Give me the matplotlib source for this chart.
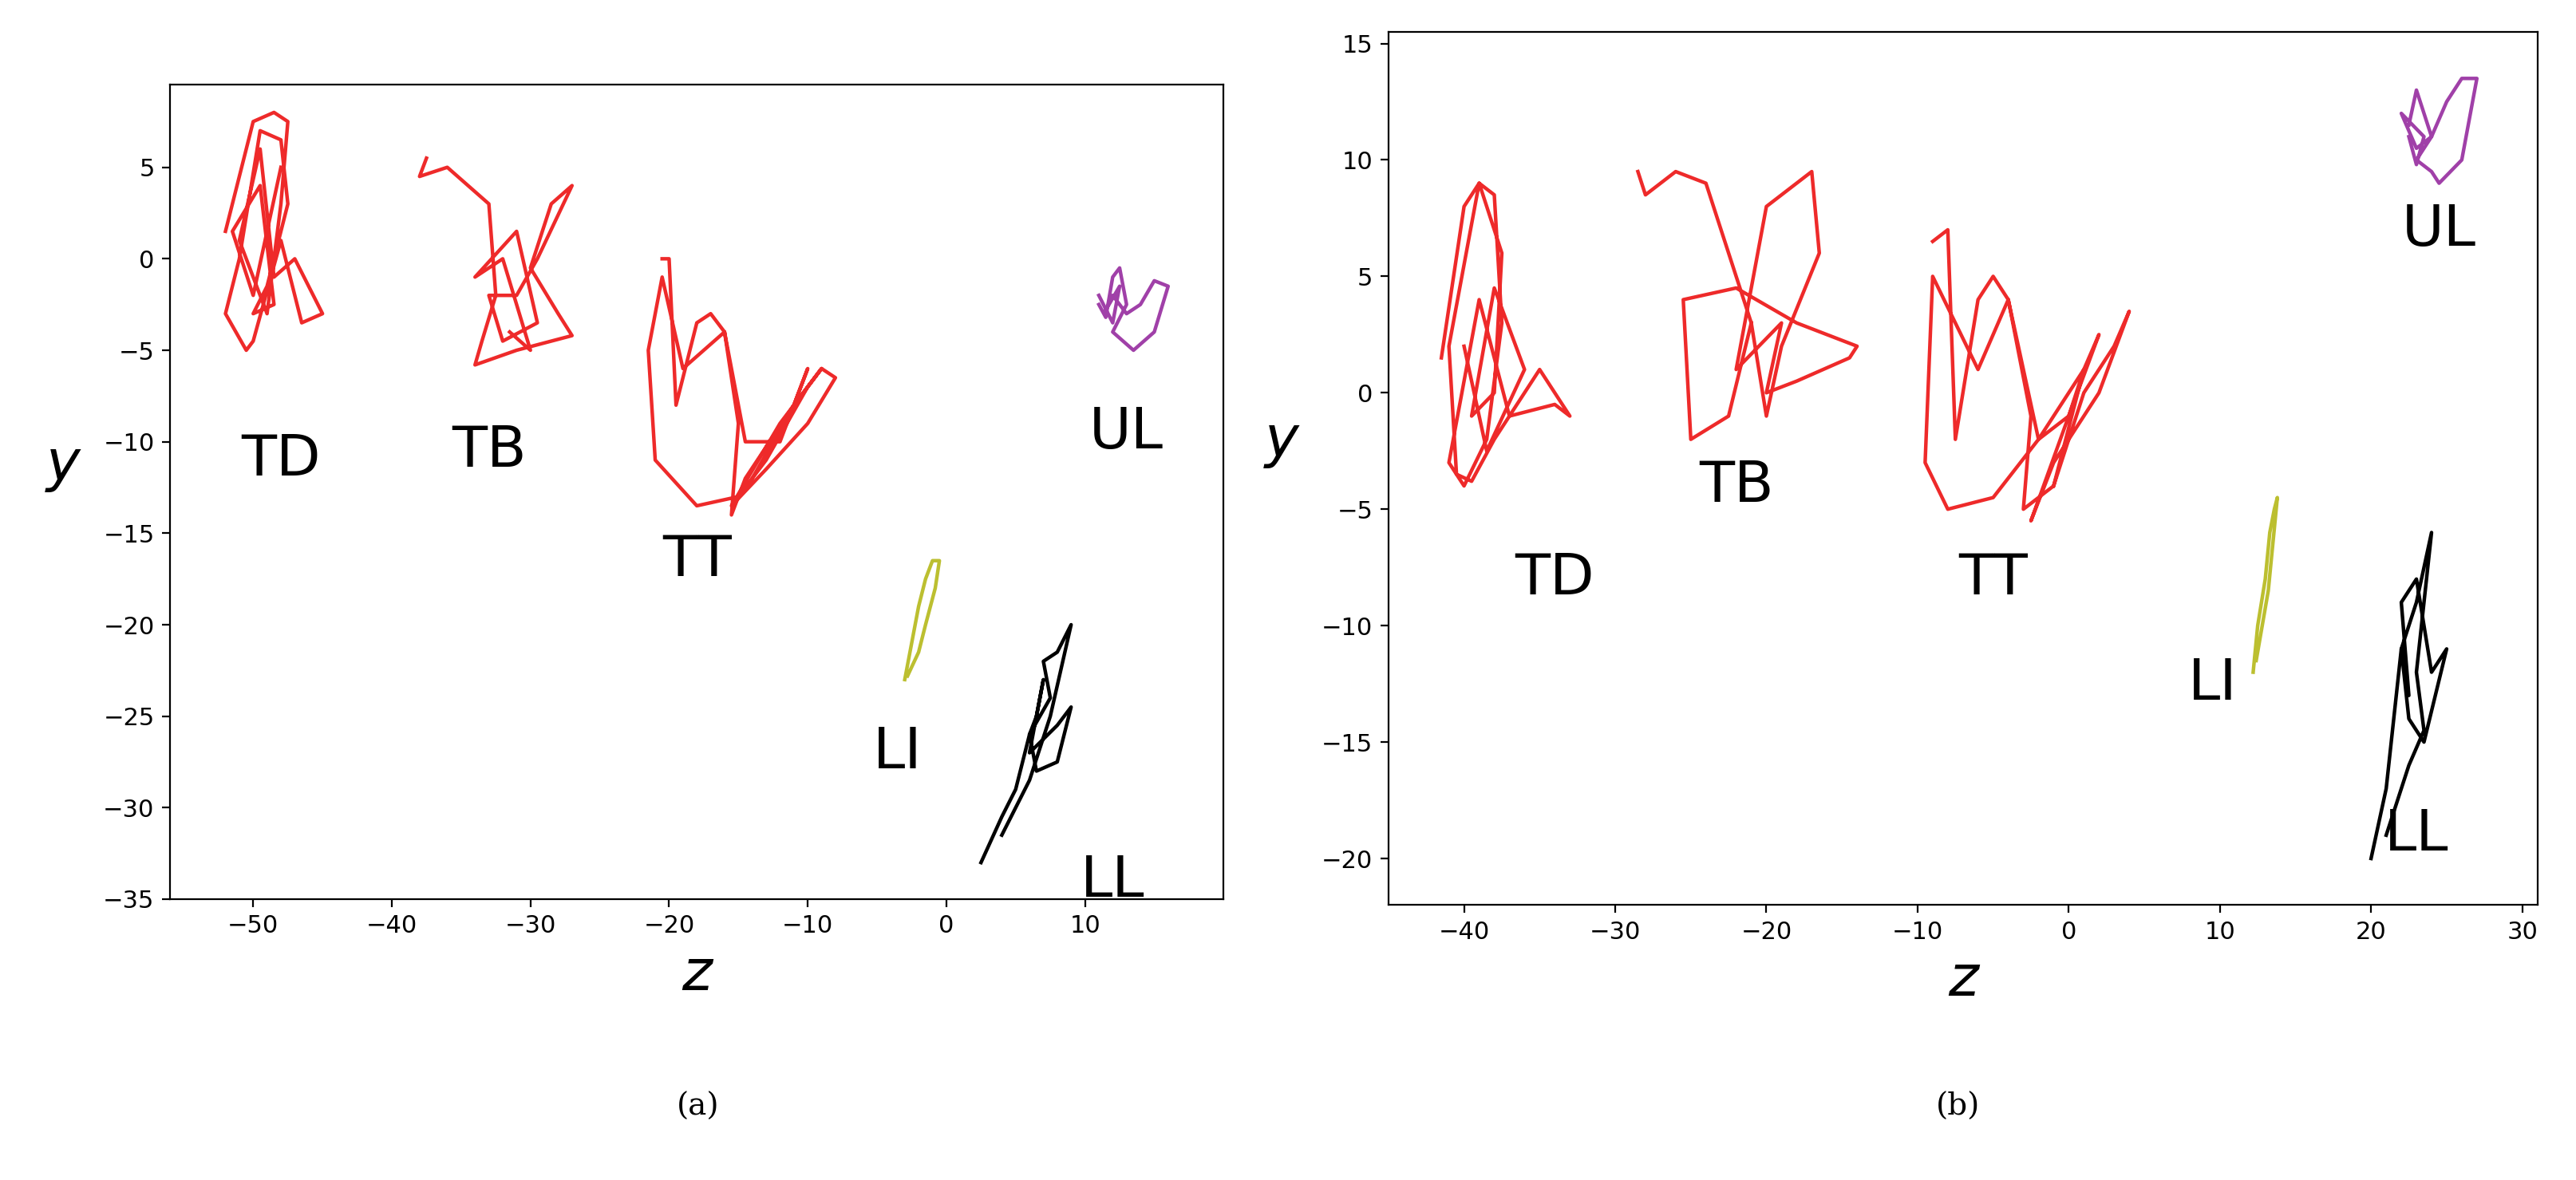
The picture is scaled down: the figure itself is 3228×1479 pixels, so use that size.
import matplotlib.pyplot as plt

# ---- panel (a) trajectories (z, y) ----
a_td_z = [-52, -50.5, -50, -48.5, -47.5, -48, -49, -51, -49.5, -48.5, -47, -45, -46.5, -48, -50, -50.5, -52, -51, -49.5, -48, -47.5, -49, -50, -48.5, -49.5, -51.5, -50, -48]
a_td_y = [1.5, 6, 7.5, 8, 7.5, 3, -3, 1, 6, -1, 0, -3, -3.5, 1, -4.5, -5, -3, 0, 7, 6.5, 3, -1.5, -3, -2.5, 4, 1.5, -2, 5]
a_tb_z = [-37.5, -38, -36, -33, -32.5, -33.5, -34, -31, -27, -28, -30, -28.5, -27, -29.5, -31, -33, -32, -29.5, -31, -34, -32, -30, -31.5]
a_tb_y = [5.5, 4.5, 5, 3, -2, -4.5, -5.8, -5, -4.2, -3, -0.5, 3, 4, 0, -2, -2, -4.5, -3.5, 1.5, -1, 0, -5, -4]
a_tt_z = [-20.5, -20, -19.5, -18, -17, -16, -15, -15.5, -14.5, -11, -9, -8, -10, -13, -15.5, -12, -9, -10, -13, -15, -18, -21, -21.5, -20.5, -19, -16, -14.5, -12, -10, -11, -14]
a_tt_y = [0, 0, -8, -3.5, -3, -4, -9, -14, -12, -8, -6, -6.5, -9, -11.5, -13.5, -9, -6, -7, -11, -13, -13.5, -11, -5, -1, -6, -4, -10, -10, -6, -8, -12]
a_ul_z = [11, 11.5, 12, 12.5, 13, 12, 13.5, 15, 16, 15, 14, 13, 12, 11.5, 12.5, 12, 11]
a_ul_y = [-2.5, -3.2, -1, -0.5, -2.5, -4, -5, -4, -1.5, -1.2, -2.5, -3, -2, -2.8, -1.5, -3.5, -2]
a_li_z = [-3, -2.5, -2, -1.5, -1, -0.5, -0.8, -1.5, -2, -2.8]
a_li_y = [-23, -21, -19, -17.5, -16.5, -16.5, -18, -20, -21.5, -22.8]
a_ll_z = [2.5, 4, 5, 6, 6.5, 7, 6, 8, 9, 8, 6.5, 6, 7.5, 7, 8, 9, 7.5, 6, 5, 4]
a_ll_y = [-33, -30.5, -29, -26, -25, -23, -27, -25.5, -24.5, -27.5, -28, -26, -24, -22, -21.5, -20, -25, -28.5, -30, -31.5]

# ---- panel (b) trajectories (z, y) ----
b_td_z = [-41.5, -40, -39, -38, -37.5, -38.5, -40, -41, -39, -37, -34, -33, -35, -38, -39.5, -40.5, -41, -39, -37.5, -38, -39.5, -38, -36, -38.5, -40]
b_td_y = [1.5, 8, 9, 8.5, 3, -2, -4, -3, 4, -1, -0.5, -1, 1, -2, -3.8, -3.5, 2, 9, 6, 0, -1, 4.5, 1, -2.5, 2]
b_tb_z = [-28.5, -28, -26, -24, -22, -21, -22.5, -25, -25.5, -22, -18, -14, -14.5, -18, -20, -19, -22, -20, -17, -16.5, -19, -20, -21]
b_tb_y = [9.5, 8.5, 9.5, 9, 5, 3, -1, -2, 4, 4.5, 3, 2, 1.5, 0.5, 0, 3, 1, 8, 9.5, 6, 2, -1, 3]
b_tt_z = [-9, -8, -7.5, -6, -5, -4, -2.5, -3, -1, 1, 3, 4, 2, -1, -2.5, 0, 2, 1, -2, -5, -8, -9.5, -9, -6, -4, -2, 0, 1, -1]
b_tt_y = [6.5, 7, -2, 4, 5, 4, -1, -5, -4, 0, 2, 3.5, 0, -3, -5.5, -1, 2.5, 1, -2, -4.5, -5, -3, 5, 1, 4, -2, -1, 1, -4]
b_ul_z = [22.5, 23, 23.5, 24, 23, 24, 24.5, 26, 27, 26, 25, 24, 23, 22, 23.5, 23, 22.5]
b_ul_y = [11.5, 13, 12, 11, 10, 9.5, 9, 10, 13.5, 13.5, 12.5, 11, 10.5, 12, 11, 9.8, 11]
b_li_z = [12.2, 12.5, 13, 13.3, 13.6, 13.8, 13.5, 13.2, 12.8, 12.4]
b_li_y = [-12, -10, -8, -6, -5, -4.5, -6.5, -8.5, -10, -11.5]
b_ll_z = [20, 21, 21.5, 22, 22.5, 22, 23, 24, 25, 23.5, 22.5, 22, 23, 24, 23, 23.5, 22.5, 21.5, 21]
b_ll_y = [-20, -17, -14, -11, -13, -9, -8, -12, -11, -15, -14, -11, -9, -6, -12, -14.5, -16, -18, -19]

tracks_a = [(a_td_z, a_td_y, "#ee2a2a"), (a_tb_z, a_tb_y, "#ee2a2a"), (a_tt_z, a_tt_y, "#ee2a2a"),
            (a_ul_z, a_ul_y, "#a040a8"), (a_li_z, a_li_y, "#bcbf30"), (a_ll_z, a_ll_y, "black")]
tracks_b = [(b_td_z, b_td_y, "#ee2a2a"), (b_tb_z, b_tb_y, "#ee2a2a"), (b_tt_z, b_tt_y, "#ee2a2a"),
            (b_ul_z, b_ul_y, "#a040a8"), (b_li_z, b_li_y, "#bcbf30"), (b_ll_z, b_ll_y, "black")]
labels_a = [("TD", -48, -11), ("TB", -33, -10.5), ("TT", -18, -16.5), ("UL", 13, -9.5), ("LI", -3.5, -27), ("LL", 12, -34)]
labels_b = [("TD", -34, -8), ("TB", -22, -4), ("TT", -5, -8), ("UL", 24.5, 7), ("LI", 9.5, -12.5), ("LL", 23, -19)]

fig = plt.figure(figsize=(16.14, 7.395), dpi=200)
ax1 = fig.add_axes([0.066, 0.238, 0.409, 0.69])
ax2 = fig.add_axes([0.539, 0.233, 0.446, 0.74])

for ax, tracks, labels in [(ax1, tracks_a, labels_a), (ax2, tracks_b, labels_b)]:
    for z, y, c in tracks:
        ax.plot(z, y, color=c, lw=1.6)
    for t, x, y in labels:
        ax.text(x, y, t, fontsize=26, ha="center", va="center")
    ax.set_xlabel("z", fontsize=26, style="italic")
    ax.set_ylabel("y", fontsize=26, style="italic", rotation=0, labelpad=18)
    ax.tick_params(labelsize=11)

ax1.set_xlim(-56, 20)
ax1.set_ylim(-35, 9.5)
ax1.set_xticks([-50, -40, -30, -20, -10, 0, 10])
ax1.set_yticks([-35, -30, -25, -20, -15, -10, -5, 0, 5])
ax2.set_xlim(-45, 31)
ax2.set_ylim(-22, 15.5)
ax2.set_xticks([-40, -30, -20, -10, 0, 10, 20, 30])
ax2.set_yticks([-20, -15, -10, -5, 0, 5, 10, 15])

fig.text(0.271, 0.055, "(a)", fontsize=14, ha="center", family="serif")
fig.text(0.76, 0.055, "(b)", fontsize=14, ha="center", family="serif")

fig.savefig("out.png", dpi=200)
